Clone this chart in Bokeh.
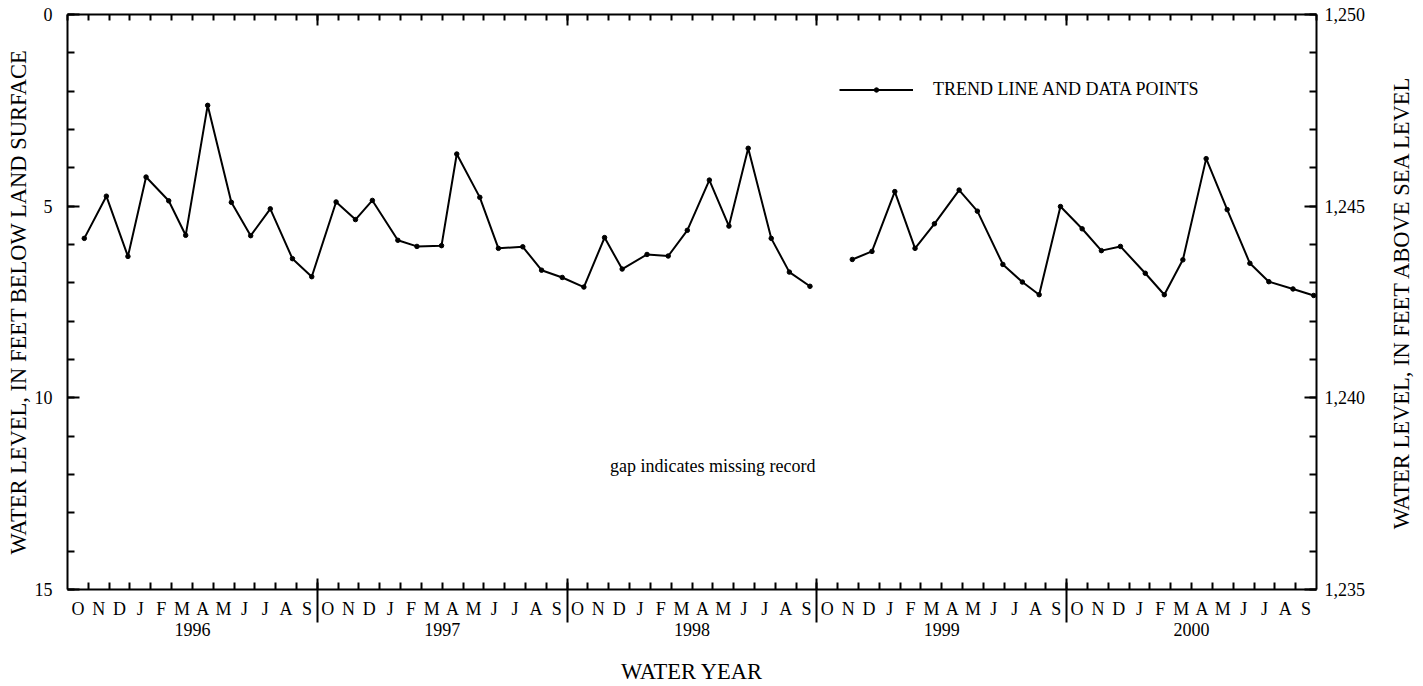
import calendar
import math
from bokeh.plotting import figure
from bokeh.layouts import row
from bokeh.models import (Range1d, LinearAxis, FixedTicker, NumeralTickFormatter,
                          Legend, LegendItem, Label, Title, ColumnDataSource)
from bokeh.embed import file_html
from bokeh.resources import INLINE

# ---------------- data ----------------
month_letters = ["O", "N", "D", "J", "F", "M", "A", "M", "J", "J", "A", "S"]
water_years = ["1996", "1997", "1998", "1999", "2000"]
depth_ticks = [0, 5, 10, 15]
elev_ticks = [1235, 1240, 1245, 1250]

dates = [
    "1995-10-26", "1995-11-27", "1995-12-29", "1996-01-25", "1996-02-26", "1996-03-22",
    "1996-04-23", "1996-05-28", "1996-06-25", "1996-07-24", "1996-08-26", "1996-09-23",
    "1996-10-29", "1996-11-26", "1996-12-21", "1997-01-28", "1997-02-23", "1997-03-31",
    "1997-04-22", "1997-05-26", "1997-06-22", "1997-07-28", "1997-08-25", "1997-09-24",
    "1997-10-26", "1997-11-25", "1997-12-21", "1998-01-27", "1998-02-25", "1998-03-25",
    "1998-04-26", "1998-05-25", "1998-06-22", "1998-07-26", "1998-08-22", "1998-09-21",
    "1998-10-15",
    "1998-11-22", "1998-12-21", "1999-01-24", "1999-02-21", "1999-03-21",
    "1999-04-26", "1999-05-23", "1999-06-29", "1999-07-28", "1999-08-22", "1999-09-22",
    "1999-10-24", "1999-11-21", "1999-12-19", "2000-01-25", "2000-02-21", "2000-03-19",
    "2000-04-22", "2000-05-23", "2000-06-25", "2000-07-23", "2000-08-28", "2000-09-27",
]
depth_ft = [
    5.84, 4.74, 6.31, 4.24, 4.86, 5.76, 2.37, 4.90, 5.77, 5.07, 6.37, 6.84,
    4.89, 5.35, 4.85, 5.89, 6.05, 6.03, 3.64, 4.77, 6.10, 6.06, 6.67, 6.86,
    7.11, 5.82, 6.64, 6.26, 6.30, 5.63, 4.32, 5.52, 3.49, 5.84, 6.72, 7.09,
    float("nan"),  # October 1998: missing record
    6.39, 6.18, 4.62, 6.10, 5.46, 4.58, 5.13, 6.52, 6.98, 7.31, 5.01,
    5.59, 6.16, 6.05, 6.75, 7.31, 6.40, 3.76, 5.09, 6.49, 6.97, 7.16, 7.33,
]

# months since start of water year 1996 (1995-10-01)
def month_pos(d):
    y, m, day = (int(v) for v in d.split("-"))
    ndays = calendar.monthrange(y, m)[1]
    return (y - 1995) * 12 + (m - 10) + (day - 1) / ndays

xs = [month_pos(d) for d in dates]
src = ColumnDataSource(data=dict(x=xs, y=depth_ft))

n_months = 12 * len(water_years)
FONT = "Liberation Serif"
H = 686
W_MAIN = 1386
W_SIDE = 37

p = figure(width=W_MAIN, height=H, x_range=Range1d(0, n_months), y_range=Range1d(15, 0),
           output_backend="svg", toolbar_location=None,
           min_border_left=67, min_border_right=W_MAIN - 1316, min_border_top=14, min_border_bottom=97)
p.extra_y_ranges = {"elev": Range1d(elev_ticks[0], elev_ticks[-1])}
p.xgrid.visible = False
p.ygrid.visible = False
p.outline_line_color = None
p.background_fill_color = "white"
p.border_fill_color = "white"

def style(ax):
    ax.axis_line_width = 2
    ax.axis_line_color = "black"
    ax.major_tick_line_width = 2
    ax.minor_tick_line_width = 2
    ax.major_label_text_font = FONT
    ax.major_label_text_font_size = "18px"
    ax.major_label_text_color = "black"
    ax.axis_label_text_font = FONT
    ax.axis_label_text_font_style = "normal"
    ax.axis_label_text_font_size = "22.5px"
    ax.axis_label_text_color = "black"

# bottom axis A: month letters
centers = [i + 0.5 for i in range(n_months)]
bounds = list(range(1, n_months))
xa = p.xaxis[0]
style(xa)
xa.ticker = FixedTicker(ticks=centers, minor_ticks=bounds)
xa.major_tick_line_color = None
xa.major_tick_in = 0
xa.major_tick_out = 0
xa.minor_tick_in = 7
xa.minor_tick_out = 0
xa.major_label_standoff = 9
xa.major_label_overrides = {c: month_letters[i % 12] for i, c in enumerate(centers)}

# bottom axis B: water years
year_centers = [12 * i + 6 for i in range(len(water_years))]
year_bounds = [12 * i for i in range(1, len(water_years))]
xb = LinearAxis()
style(xb)
xb.ticker = FixedTicker(ticks=year_centers, minor_ticks=year_bounds)
xb.axis_line_color = None
xb.major_tick_line_color = None
xb.major_tick_in = 0
xb.major_tick_out = 0
xb.minor_tick_in = 43
xb.minor_tick_out = 1
xb.major_label_standoff = 0
xb.major_label_overrides = {c: water_years[i] for i, c in enumerate(year_centers)}
xb.axis_label = "WATER YEAR"
xb.axis_label_standoff = 20
p.add_layout(xb, "below")

# top axis: ticks only
xt = LinearAxis()
style(xt)
xt.ticker = FixedTicker(ticks=year_bounds, minor_ticks=list(range(0, n_months + 1)))
xt.major_tick_in = 11
xt.major_tick_out = 0
xt.minor_tick_in = 6
xt.minor_tick_out = 0
xt.major_label_text_font_size = "1px"
xt.major_label_text_color = None
xt.major_label_standoff = 0
p.add_layout(xt, "above")

# left axis: depth
ya = p.yaxis[0]
style(ya)
ya.ticker = FixedTicker(ticks=depth_ticks, minor_ticks=list(range(0, 16)))
ya.major_tick_in = 12
ya.major_tick_out = 0
ya.minor_tick_in = 7
ya.minor_tick_out = 0
ya.major_label_standoff = 15
ya.axis_label = "WATER LEVEL, IN FEET BELOW LAND SURFACE"
ya.axis_label_standoff = 1

# right axis: elevation (title drawn in the narrow side panel)
yr = LinearAxis(y_range_name="elev")
style(yr)
yr.ticker = FixedTicker(ticks=elev_ticks, minor_ticks=list(range(elev_ticks[0], elev_ticks[-1] + 1)))
yr.formatter = NumeralTickFormatter(format="0,0")
yr.major_tick_in = 12
yr.major_tick_out = 0
yr.minor_tick_in = 7
yr.minor_tick_out = 0
yr.major_label_standoff = 8
p.add_layout(yr, "right")

# data
ln = p.line("x", "y", source=src, line_color="black", line_width=2)
sc = p.scatter("x", "y", source=src, size=4.5, color="black")

legend = Legend(items=[LegendItem(label="TREND LINE AND DATA POINTS", renderers=[ln, sc])],
                location=(772, 489), glyph_width=74, glyph_height=11, label_height=11,
                label_standoff=20, padding=0, margin=0, spacing=0,
                border_line_color=None, background_fill_alpha=0,
                label_text_font=FONT, label_text_font_size="18px", label_text_color="black")
p.add_layout(legend)

p.add_layout(Label(x=31.0, y=11.77, text="gap indicates missing record",
                   text_font=FONT, text_font_size="18px", text_color="black",
                   text_align="center", text_baseline="middle"))

# narrow side figure carrying the right-hand axis title (reads bottom to top)
p2 = figure(width=W_SIDE, height=H, output_backend="svg", toolbar_location=None,
            x_axis_location=None, y_axis_location=None,
            min_border_left=0, min_border_right=0, min_border_top=14, min_border_bottom=97)
p2.outline_line_color = None
p2.grid.visible = False
p2.background_fill_color = "white"
p2.border_fill_color = "white"
p2.add_layout(Title(text="WATER LEVEL, IN FEET ABOVE SEA LEVEL", align="center",
                    text_font=FONT, text_font_size="22.5px", text_font_style="normal",
                    text_color="black", standoff=0, offset=0), "left")

layout = row(p, p2, spacing=0)
open("out.html", "w").write(file_html(layout, INLINE))
